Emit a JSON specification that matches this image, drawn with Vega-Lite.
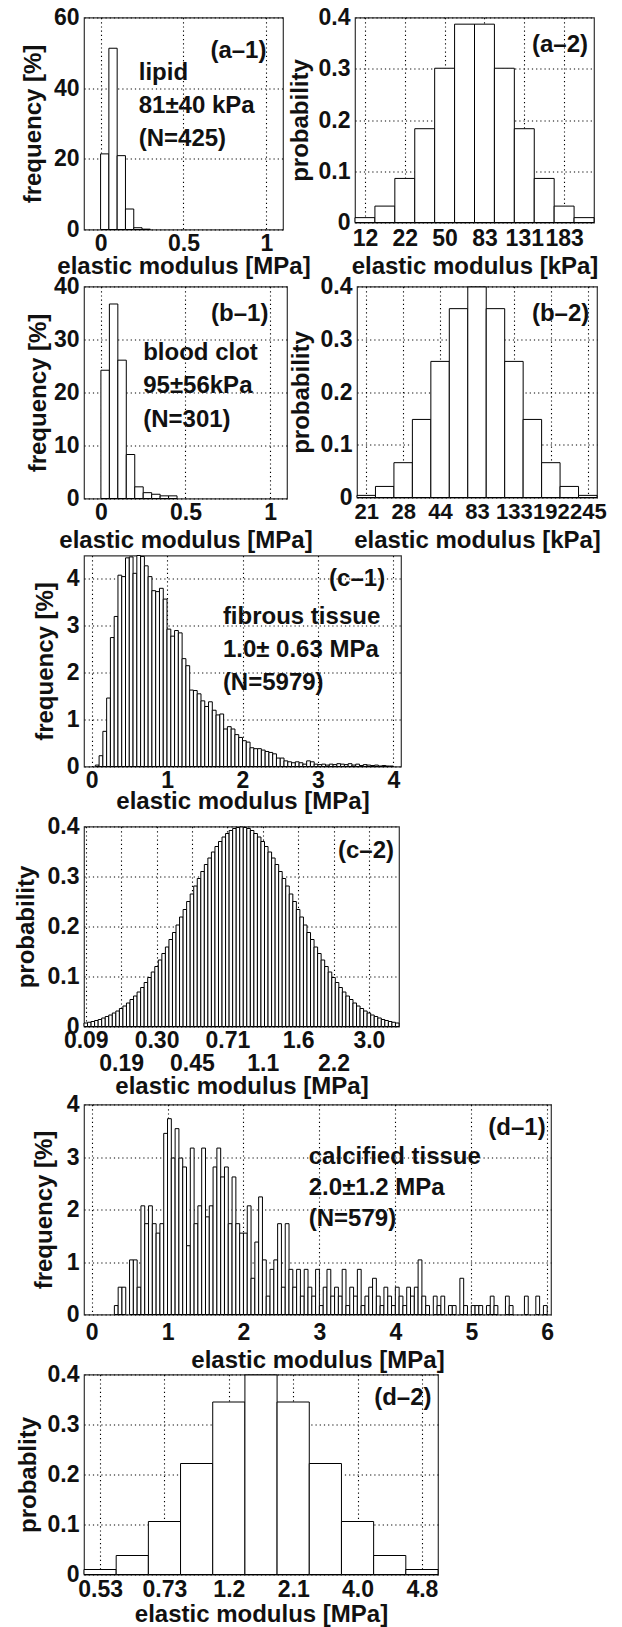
{
"$schema":"https://vega.github.io/schema/vega-lite/v6.json",
"background":"white",
"padding":{"left":13,"top":5.5,"right":5,"bottom":0},
"spacing":-5,
"config":{
 "font":"Liberation Sans",
 "view":{"stroke":"#333333","strokeWidth":1.2},
 "axis":{"labelFont":"Liberation Sans","labelFontSize":23,"labelFontWeight":"bold","labelColor":"#111111",
  "titleFont":"Liberation Sans","titleFontSize":24,"titleFontWeight":"bold","titleColor":"#111111",
  "domain":false,"ticks":false,"tickSize":0,"grid":true,"gridColor":"#000000","gridDash":[1.2,3],"gridWidth":1.1,"gridOpacity":1,
  "labelOverlap":false,"labelFlush":false,"zindex":1},
 "axisX":{"labelPadding":3,"labelOverlap":false,"labelFlush":false},
 "axisY":{"labelPadding":5,"labelOverlap":false},
 "text":{"font":"Liberation Sans","fontSize":24,"fontWeight":"bold","fill":"#111111"}
},
"datasets":{
 "a1":[{"lo":0,"hi":0.05,"v":21.4},{"lo":0.05,"hi":0.1,"v":51.3},{"lo":0.1,"hi":0.15,"v":20.9},{"lo":0.15,"hi":0.2,"v":5.8},{"lo":0.2,"hi":0.25,"v":0.5},{"lo":0.25,"hi":0.3,"v":0.1}],
 "a2":[{"lo":0.5,"hi":1.5,"p":0.0095},{"lo":1.5,"hi":2.5,"p":0.032},{"lo":2.5,"hi":3.5,"p":0.086},{"lo":3.5,"hi":4.5,"p":0.183},{"lo":4.5,"hi":5.5,"p":0.301},{"lo":5.5,"hi":6.5,"p":0.387},{"lo":6.5,"hi":7.5,"p":0.387},{"lo":7.5,"hi":8.5,"p":0.301},{"lo":8.5,"hi":9.5,"p":0.183},{"lo":9.5,"hi":10.5,"p":0.086},{"lo":10.5,"hi":11.5,"p":0.032},{"lo":11.5,"hi":12.5,"p":0.0095}],
 "b1":[{"lo":0,"hi":0.05,"v":24.2},{"lo":0.05,"hi":0.1,"v":36.7},{"lo":0.1,"hi":0.15,"v":26.1},{"lo":0.15,"hi":0.2,"v":8.3},{"lo":0.2,"hi":0.25,"v":2.2},{"lo":0.25,"hi":0.3,"v":1.1},{"lo":0.3,"hi":0.35,"v":0.8},{"lo":0.35,"hi":0.4,"v":0.5},{"lo":0.4,"hi":0.45,"v":0.5}],
 "b2":[{"lo":0.5,"hi":1.5,"p":0.004},{"lo":1.5,"hi":2.5,"p":0.021},{"lo":2.5,"hi":3.5,"p":0.066},{"lo":3.5,"hi":4.5,"p":0.148},{"lo":4.5,"hi":5.5,"p":0.258},{"lo":5.5,"hi":6.5,"p":0.358},{"lo":6.5,"hi":7.5,"p":0.399},{"lo":7.5,"hi":8.5,"p":0.358},{"lo":8.5,"hi":9.5,"p":0.258},{"lo":9.5,"hi":10.5,"p":0.148},{"lo":10.5,"hi":11.5,"p":0.066},{"lo":11.5,"hi":12.5,"p":0.021},{"lo":12.5,"hi":13.5,"p":0.004}],
 "c1":[{"lo":0.05,"hi":0.1,"v":0.03},{"lo":0.1,"hi":0.15,"v":0.23},{"lo":0.15,"hi":0.2,"v":0.75},{"lo":0.2,"hi":0.25,"v":1.46},{"lo":0.25,"hi":0.3,"v":2.75},{"lo":0.3,"hi":0.35,"v":3.2},{"lo":0.35,"hi":0.4,"v":4.08},{"lo":0.4,"hi":0.45,"v":4.05},{"lo":0.45,"hi":0.5,"v":4.45},{"lo":0.5,"hi":0.55,"v":4.47},{"lo":0.55,"hi":0.6,"v":4.12},{"lo":0.6,"hi":0.65,"v":4.5},{"lo":0.65,"hi":0.7,"v":4.48},{"lo":0.7,"hi":0.75,"v":4.28},{"lo":0.75,"hi":0.8,"v":4.05},{"lo":0.8,"hi":0.85,"v":3.75},{"lo":0.85,"hi":0.9,"v":3.73},{"lo":0.9,"hi":0.95,"v":3.8},{"lo":0.95,"hi":1,"v":3.57},{"lo":1,"hi":1.05,"v":2.93},{"lo":1.05,"hi":1.1,"v":2.78},{"lo":1.1,"hi":1.15,"v":2.9},{"lo":1.15,"hi":1.2,"v":2.85},{"lo":1.2,"hi":1.25,"v":2.3},{"lo":1.25,"hi":1.3,"v":2.15},{"lo":1.3,"hi":1.35,"v":1.63},{"lo":1.35,"hi":1.4,"v":1.62},{"lo":1.4,"hi":1.45,"v":1.55},{"lo":1.45,"hi":1.5,"v":1.4},{"lo":1.5,"hi":1.55,"v":1.28},{"lo":1.55,"hi":1.6,"v":1.38},{"lo":1.6,"hi":1.65,"v":1.2},{"lo":1.65,"hi":1.7,"v":1.1},{"lo":1.7,"hi":1.75,"v":1.12},{"lo":1.75,"hi":1.8,"v":0.8},{"lo":1.8,"hi":1.85,"v":0.85},{"lo":1.85,"hi":1.9,"v":0.8},{"lo":1.9,"hi":1.95,"v":0.68},{"lo":1.95,"hi":2,"v":0.62},{"lo":2,"hi":2.05,"v":0.55},{"lo":2.05,"hi":2.1,"v":0.52},{"lo":2.1,"hi":2.15,"v":0.4},{"lo":2.15,"hi":2.2,"v":0.38},{"lo":2.2,"hi":2.25,"v":0.38},{"lo":2.25,"hi":2.3,"v":0.35},{"lo":2.3,"hi":2.35,"v":0.32},{"lo":2.35,"hi":2.4,"v":0.3},{"lo":2.4,"hi":2.45,"v":0.27},{"lo":2.45,"hi":2.5,"v":0.18},{"lo":2.5,"hi":2.55,"v":0.18},{"lo":2.55,"hi":2.6,"v":0.12},{"lo":2.6,"hi":2.65,"v":0.1},{"lo":2.65,"hi":2.7,"v":0.08},{"lo":2.7,"hi":2.75,"v":0.1},{"lo":2.75,"hi":2.8,"v":0.08},{"lo":2.8,"hi":2.85,"v":0.05},{"lo":2.85,"hi":2.9,"v":0.12},{"lo":2.9,"hi":2.95,"v":0.1},{"lo":2.95,"hi":3,"v":0.05},{"lo":3,"hi":3.05,"v":0.04},{"lo":3.05,"hi":3.1,"v":0.05},{"lo":3.1,"hi":3.15,"v":0.03},{"lo":3.15,"hi":3.2,"v":0.05},{"lo":3.2,"hi":3.25,"v":0.04},{"lo":3.25,"hi":3.3,"v":0.06},{"lo":3.3,"hi":3.35,"v":0.05},{"lo":3.35,"hi":3.4,"v":0.04},{"lo":3.4,"hi":3.45,"v":0.06},{"lo":3.45,"hi":3.5,"v":0.03},{"lo":3.5,"hi":3.55,"v":0.05},{"lo":3.55,"hi":3.6,"v":0.02},{"lo":3.6,"hi":3.65,"v":0.04},{"lo":3.65,"hi":3.7,"v":0.03},{"lo":3.7,"hi":3.75,"v":0.02},{"lo":3.75,"hi":3.8,"v":0.03},{"lo":3.8,"hi":3.85,"v":0.01},{"lo":3.85,"hi":3.9,"v":0.02},{"lo":3.9,"hi":3.95,"v":0.01},{"lo":3.95,"hi":4,"v":0.01}],
 "c2":[{"lo":0.5,"hi":1.5,"p":0.007},{"lo":1.5,"hi":2.5,"p":0.0085},{"lo":2.5,"hi":3.5,"p":0.01},{"lo":3.5,"hi":4.5,"p":0.012},{"lo":4.5,"hi":5.5,"p":0.014},{"lo":5.5,"hi":6.5,"p":0.017},{"lo":6.5,"hi":7.5,"p":0.02},{"lo":7.5,"hi":8.5,"p":0.023},{"lo":8.5,"hi":9.5,"p":0.027},{"lo":9.5,"hi":10.5,"p":0.031},{"lo":10.5,"hi":11.5,"p":0.036},{"lo":11.5,"hi":12.5,"p":0.041},{"lo":12.5,"hi":13.5,"p":0.047},{"lo":13.5,"hi":14.5,"p":0.054},{"lo":14.5,"hi":15.5,"p":0.061},{"lo":15.5,"hi":16.5,"p":0.069},{"lo":16.5,"hi":17.5,"p":0.078},{"lo":17.5,"hi":18.5,"p":0.088},{"lo":18.5,"hi":19.5,"p":0.098},{"lo":19.5,"hi":20.5,"p":0.109},{"lo":20.5,"hi":21.5,"p":0.12},{"lo":21.5,"hi":22.5,"p":0.133},{"lo":22.5,"hi":23.5,"p":0.146},{"lo":23.5,"hi":24.5,"p":0.159},{"lo":24.5,"hi":25.5,"p":0.174},{"lo":25.5,"hi":26.5,"p":0.188},{"lo":26.5,"hi":27.5,"p":0.203},{"lo":27.5,"hi":28.5,"p":0.219},{"lo":28.5,"hi":29.5,"p":0.234},{"lo":29.5,"hi":30.5,"p":0.25},{"lo":30.5,"hi":31.5,"p":0.265},{"lo":31.5,"hi":32.5,"p":0.281},{"lo":32.5,"hi":33.5,"p":0.296},{"lo":33.5,"hi":34.5,"p":0.31},{"lo":34.5,"hi":35.5,"p":0.324},{"lo":35.5,"hi":36.5,"p":0.337},{"lo":36.5,"hi":37.5,"p":0.349},{"lo":37.5,"hi":38.5,"p":0.36},{"lo":38.5,"hi":39.5,"p":0.37},{"lo":39.5,"hi":40.5,"p":0.379},{"lo":40.5,"hi":41.5,"p":0.386},{"lo":41.5,"hi":42.5,"p":0.392},{"lo":42.5,"hi":43.5,"p":0.396},{"lo":43.5,"hi":44.5,"p":0.398},{"lo":44.5,"hi":45.5,"p":0.399},{"lo":45.5,"hi":46.5,"p":0.398},{"lo":46.5,"hi":47.5,"p":0.396},{"lo":47.5,"hi":48.5,"p":0.392},{"lo":48.5,"hi":49.5,"p":0.386},{"lo":49.5,"hi":50.5,"p":0.379},{"lo":50.5,"hi":51.5,"p":0.37},{"lo":51.5,"hi":52.5,"p":0.36},{"lo":52.5,"hi":53.5,"p":0.349},{"lo":53.5,"hi":54.5,"p":0.337},{"lo":54.5,"hi":55.5,"p":0.324},{"lo":55.5,"hi":56.5,"p":0.31},{"lo":56.5,"hi":57.5,"p":0.296},{"lo":57.5,"hi":58.5,"p":0.281},{"lo":58.5,"hi":59.5,"p":0.265},{"lo":59.5,"hi":60.5,"p":0.25},{"lo":60.5,"hi":61.5,"p":0.234},{"lo":61.5,"hi":62.5,"p":0.219},{"lo":62.5,"hi":63.5,"p":0.203},{"lo":63.5,"hi":64.5,"p":0.188},{"lo":64.5,"hi":65.5,"p":0.174},{"lo":65.5,"hi":66.5,"p":0.159},{"lo":66.5,"hi":67.5,"p":0.146},{"lo":67.5,"hi":68.5,"p":0.133},{"lo":68.5,"hi":69.5,"p":0.12},{"lo":69.5,"hi":70.5,"p":0.109},{"lo":70.5,"hi":71.5,"p":0.098},{"lo":71.5,"hi":72.5,"p":0.088},{"lo":72.5,"hi":73.5,"p":0.078},{"lo":73.5,"hi":74.5,"p":0.069},{"lo":74.5,"hi":75.5,"p":0.061},{"lo":75.5,"hi":76.5,"p":0.054},{"lo":76.5,"hi":77.5,"p":0.047},{"lo":77.5,"hi":78.5,"p":0.041},{"lo":78.5,"hi":79.5,"p":0.036},{"lo":79.5,"hi":80.5,"p":0.031},{"lo":80.5,"hi":81.5,"p":0.027},{"lo":81.5,"hi":82.5,"p":0.023},{"lo":82.5,"hi":83.5,"p":0.02},{"lo":83.5,"hi":84.5,"p":0.017},{"lo":84.5,"hi":85.5,"p":0.014},{"lo":85.5,"hi":86.5,"p":0.012},{"lo":86.5,"hi":87.5,"p":0.01},{"lo":87.5,"hi":88.5,"p":0.0085},{"lo":88.5,"hi":89.5,"p":0.007}],
 "d1":[{"lo":0.3,"hi":0.35,"v":0.17},{"lo":0.35,"hi":0.4,"v":0.52},{"lo":0.4,"hi":0.45,"v":0.52},{"lo":0.5,"hi":0.55,"v":1.04},{"lo":0.55,"hi":0.6,"v":1.04},{"lo":0.6,"hi":0.65,"v":0.52},{"lo":0.65,"hi":0.7,"v":2.07},{"lo":0.7,"hi":0.75,"v":1.73},{"lo":0.75,"hi":0.8,"v":2.07},{"lo":0.8,"hi":0.85,"v":1.73},{"lo":0.85,"hi":0.9,"v":1.55},{"lo":0.9,"hi":0.95,"v":1.73},{"lo":0.95,"hi":1,"v":3.45},{"lo":1,"hi":1.05,"v":3.73},{"lo":1.05,"hi":1.1,"v":2.98},{"lo":1.1,"hi":1.15,"v":3.54},{"lo":1.15,"hi":1.2,"v":2.98},{"lo":1.2,"hi":1.25,"v":2.81},{"lo":1.25,"hi":1.3,"v":1.31},{"lo":1.3,"hi":1.35,"v":3.17},{"lo":1.35,"hi":1.4,"v":1.73},{"lo":1.4,"hi":1.45,"v":2.07},{"lo":1.45,"hi":1.5,"v":3.17},{"lo":1.5,"hi":1.55,"v":1.86},{"lo":1.55,"hi":1.6,"v":2.07},{"lo":1.6,"hi":1.65,"v":2.81},{"lo":1.65,"hi":1.7,"v":3.17},{"lo":1.7,"hi":1.75,"v":2.62},{"lo":1.75,"hi":1.8,"v":2.81},{"lo":1.8,"hi":1.85,"v":1.73},{"lo":1.85,"hi":1.9,"v":2.62},{"lo":1.9,"hi":1.95,"v":1.73},{"lo":1.95,"hi":2,"v":1.55},{"lo":2,"hi":2.05,"v":1.55},{"lo":2.05,"hi":2.1,"v":2.07},{"lo":2.1,"hi":2.15,"v":0.69},{"lo":2.15,"hi":2.2,"v":1.38},{"lo":2.2,"hi":2.25,"v":2.24},{"lo":2.25,"hi":2.3,"v":1.04},{"lo":2.3,"hi":2.35,"v":0.35},{"lo":2.35,"hi":2.4,"v":0.86},{"lo":2.4,"hi":2.45,"v":1.04},{"lo":2.45,"hi":2.5,"v":1.73},{"lo":2.5,"hi":2.55,"v":0.52},{"lo":2.55,"hi":2.6,"v":1.73},{"lo":2.6,"hi":2.65,"v":0.86},{"lo":2.65,"hi":2.7,"v":0.52},{"lo":2.7,"hi":2.75,"v":0.86},{"lo":2.75,"hi":2.8,"v":0.35},{"lo":2.8,"hi":2.85,"v":0.86},{"lo":2.85,"hi":2.9,"v":0.52},{"lo":2.9,"hi":2.95,"v":0.35},{"lo":2.95,"hi":3,"v":0.86},{"lo":3,"hi":3.05,"v":0.17},{"lo":3.05,"hi":3.1,"v":0.52},{"lo":3.1,"hi":3.15,"v":0.86},{"lo":3.15,"hi":3.2,"v":0.35},{"lo":3.2,"hi":3.25,"v":0.52},{"lo":3.25,"hi":3.3,"v":0.35},{"lo":3.3,"hi":3.35,"v":0.86},{"lo":3.35,"hi":3.4,"v":0.17},{"lo":3.4,"hi":3.45,"v":0.52},{"lo":3.45,"hi":3.5,"v":0.35},{"lo":3.5,"hi":3.55,"v":0.86},{"lo":3.55,"hi":3.6,"v":0.17},{"lo":3.6,"hi":3.65,"v":0.35},{"lo":3.65,"hi":3.7,"v":0.52},{"lo":3.7,"hi":3.75,"v":0.69},{"lo":3.75,"hi":3.8,"v":0.35},{"lo":3.8,"hi":3.85,"v":0.17},{"lo":3.85,"hi":3.9,"v":0.52},{"lo":3.9,"hi":3.95,"v":0.35},{"lo":3.95,"hi":4,"v":0.17},{"lo":4,"hi":4.05,"v":0.52},{"lo":4.05,"hi":4.1,"v":0.35},{"lo":4.1,"hi":4.15,"v":0.17},{"lo":4.15,"hi":4.2,"v":0.52},{"lo":4.2,"hi":4.25,"v":0.35},{"lo":4.25,"hi":4.3,"v":0.52},{"lo":4.3,"hi":4.35,"v":1.04},{"lo":4.35,"hi":4.4,"v":0.35},{"lo":4.4,"hi":4.45,"v":0.17},{"lo":4.5,"hi":4.55,"v":0.35},{"lo":4.55,"hi":4.6,"v":0.17},{"lo":4.6,"hi":4.65,"v":0.35},{"lo":4.7,"hi":4.75,"v":0.17},{"lo":4.75,"hi":4.8,"v":0.17},{"lo":4.85,"hi":4.9,"v":0.69},{"lo":4.9,"hi":4.95,"v":0.17},{"lo":5,"hi":5.05,"v":0.17},{"lo":5.05,"hi":5.1,"v":0.17},{"lo":5.1,"hi":5.15,"v":0.17},{"lo":5.2,"hi":5.25,"v":0.17},{"lo":5.25,"hi":5.3,"v":0.35},{"lo":5.3,"hi":5.35,"v":0.17},{"lo":5.45,"hi":5.5,"v":0.35},{"lo":5.5,"hi":5.55,"v":0.17},{"lo":5.7,"hi":5.75,"v":0.35},{"lo":5.85,"hi":5.9,"v":0.35},{"lo":5.95,"hi":6,"v":0.17}],
 "d2":[{"lo":0.5,"hi":1.5,"p":0.01},{"lo":1.5,"hi":2.5,"p":0.038},{"lo":2.5,"hi":3.5,"p":0.106},{"lo":3.5,"hi":4.5,"p":0.222},{"lo":4.5,"hi":5.5,"p":0.345},{"lo":5.5,"hi":6.5,"p":0.399},{"lo":6.5,"hi":7.5,"p":0.345},{"lo":7.5,"hi":8.5,"p":0.222},{"lo":8.5,"hi":9.5,"p":0.106},{"lo":9.5,"hi":10.5,"p":0.038},{"lo":10.5,"hi":11.5,"p":0.01}]
},
"vconcat":[
 {"hconcat":[
  {"width":199,"height":212,"layer":[
   {"data":{"name":"a1"},"mark":{"type":"rect","fill":"#ffffff","stroke":"#000000","strokeWidth":1},
    "encoding":{
     "x":{"field":"lo","type":"quantitative","scale":{"domain":[-0.1,1.1],"nice":false,"zero":false},"axis":{"title":"elastic modulus [MPa]","values":[0,0.5,1],"format":"~g","labelOverlap":false,"labelFlush":false,"titlePadding":-1}},
     "x2":{"field":"hi"},
     "y":{"field":"v","type":"quantitative","scale":{"domain":[0,60],"nice":false},"axis":{"title":"frequency [%]","values":[0,10,20,30,40,50,60],"format":"d","labelOverlap":false,"minExtent":34,"maxExtent":34,"titlePadding":5}},
     "y2":{"datum":0}}},
   {"data":{"values":[{}]},"mark":{"type":"text","align":"right","baseline":"middle"},"encoding":{"x":{"datum":1.0},"y":{"datum":50.5},"text":{"value":"(a–1)"}}},
   {"data":{"values":[{}]},"mark":{"type":"text","align":"left","baseline":"middle"},"encoding":{"x":{"datum":0.23},"y":{"datum":44.2},"text":{"value":"lipid"}}},
   {"data":{"values":[{}]},"mark":{"type":"text","align":"left","baseline":"middle"},"encoding":{"x":{"datum":0.23},"y":{"datum":35.0},"text":{"value":"81±40 kPa"}}},
   {"data":{"values":[{}]},"mark":{"type":"text","align":"left","baseline":"middle"},"encoding":{"x":{"datum":0.23},"y":{"datum":25.7},"text":{"value":"(N=425)"}}}
  ]},
  {"width":239,"height":205,"layer":[
   {"data":{"name":"a2"},"mark":{"type":"rect","fill":"#ffffff","stroke":"#000000","strokeWidth":1},
    "encoding":{
     "x":{"field":"lo","type":"quantitative","scale":{"domain":[0.5,12.5],"nice":false,"zero":false},"axis":{"title":"elastic modulus [kPa]","values":[1,3,5,7,9,11],"labelExpr":"['12','22','50','83','131','183'][(datum.value-1)/2]","labelOverlap":false,"labelFlush":false,"labelPadding":5,"titlePadding":4}},
     "x2":{"field":"hi"},
     "y":{"field":"p","type":"quantitative","scale":{"domain":[0,0.4],"nice":false},"axis":{"title":"probability","values":[0,0.05,0.1,0.15,0.2,0.25,0.3,0.35,0.4],"labelExpr":"round(datum.value*100) % 10 == 0 ? (datum.value == 0 ? '0' : format(datum.value, '.1f')) : ''","labelOverlap":false,"minExtent":40,"maxExtent":40,"titlePadding":3}},
     "y2":{"datum":0}}},
   {"data":{"values":[{}]},"mark":{"type":"text","align":"right","baseline":"middle"},"encoding":{"x":{"datum":12.2},"y":{"datum":0.346},"text":{"value":"(a–2)"}}}
  ]}
 ],"spacing":-24},
 {"vconcat":[
  {"hconcat":[
   {"width":203,"height":212,"layer":[
    {"data":{"name":"b1"},"mark":{"type":"rect","fill":"#ffffff","stroke":"#000000","strokeWidth":1},
     "encoding":{
      "x":{"field":"lo","type":"quantitative","scale":{"domain":[-0.1,1.1],"nice":false,"zero":false},"axis":{"title":"elastic modulus [MPa]","values":[0,0.5,1],"format":"~g","labelOverlap":false,"labelFlush":false,"titlePadding":4}},
      "x2":{"field":"hi"},
      "y":{"field":"v","type":"quantitative","scale":{"domain":[0,40],"nice":false},"axis":{"title":"frequency [%]","values":[0,5,10,15,20,25,30,35,40],"labelExpr":"datum.value % 10 == 0 ? format(datum.value, 'd') : ''","labelOverlap":false,"minExtent":34,"maxExtent":34,"titlePadding":0}},
      "y2":{"datum":0}}},
    {"data":{"values":[{}]},"mark":{"type":"text","align":"right","baseline":"middle"},"encoding":{"x":{"datum":0.99},"y":{"datum":34.9},"text":{"value":"(b–1)"}}},
    {"data":{"values":[{}]},"mark":{"type":"text","align":"left","baseline":"middle"},"encoding":{"x":{"datum":0.25},"y":{"datum":27.5},"text":{"value":"blood clot"}}},
    {"data":{"values":[{}]},"mark":{"type":"text","align":"left","baseline":"middle"},"encoding":{"x":{"datum":0.25},"y":{"datum":21.2},"text":{"value":"95±56kPa"}}},
    {"data":{"values":[{}]},"mark":{"type":"text","align":"left","baseline":"middle"},"encoding":{"x":{"datum":0.25},"y":{"datum":14.8},"text":{"value":"(N=301)"}}}
   ]},
   {"width":240,"height":211,"resolve":{"axis":{"x":"independent"}},"layer":[
    {"data":{"name":"b2"},"mark":{"type":"rect","fill":"#ffffff","stroke":"#000000","strokeWidth":1},
     "encoding":{
      "x":{"field":"lo","type":"quantitative","scale":{"domain":[0.5,13.5],"nice":false,"zero":false},"axis":{"orient":"bottom","title":"elastic modulus [kPa]","values":[1,3,5,7,9,11,13],"labelExpr":"(datum.value-1) % 4 == 0 ? ['21','44','133','245'][(datum.value-1)/4] : ''","labelFontSize":22,"labelOverlap":false,"labelFlush":false,"labelPadding":4,"titlePadding":6}},
      "x2":{"field":"hi"},
      "y":{"field":"p","type":"quantitative","scale":{"domain":[0,0.4],"nice":false},"axis":{"title":"probability","values":[0,0.05,0.1,0.15,0.2,0.25,0.3,0.35,0.4],"labelExpr":"round(datum.value*100) % 10 == 0 ? (datum.value == 0 ? '0' : format(datum.value, '.1f')) : ''","labelOverlap":false,"minExtent":40,"maxExtent":40,"titlePadding":4}},
      "y2":{"datum":0}}},
    {"data":{"values":[{}]},"mark":{"type":"text","align":"right","baseline":"middle"},"encoding":{
      "x":{"datum":13.08,"axis":{"orient":"bottom","title":null,"grid":false,"values":[3,7,11],"labelExpr":"['28','83','192'][(datum.value-3)/4]","labelFontSize":22,"labelOverlap":false,"labelFlush":false,"labelPadding":4}},
      "y":{"datum":0.348},"text":{"value":"(b–2)"}}}
   ]}
  ],"spacing":-25},
  {"width":317,"height":211,"layer":[
   {"data":{"name":"c1"},"mark":{"type":"rect","fill":"#ffffff","stroke":"#000000","strokeWidth":1},
    "encoding":{
     "x":{"field":"lo","type":"quantitative","scale":{"domain":[-0.1,4.1],"nice":false,"zero":false},"axis":{"title":"elastic modulus [MPa]","values":[0,0.5,1,1.5,2,2.5,3,3.5,4],"labelExpr":"datum.value % 1 == 0 ? format(datum.value, 'd') : ''","labelOverlap":false,"labelFlush":false,"titlePadding":-3}},
     "x2":{"field":"hi"},
     "y":{"field":"v","type":"quantitative","scale":{"domain":[0,4.5],"nice":false},"axis":{"title":"frequency [%]","values":[0,0.5,1,1.5,2,2.5,3,3.5,4],"labelExpr":"datum.value % 1 == 0 ? format(datum.value, 'd') : ''","labelOverlap":false,"minExtent":20,"maxExtent":20,"titlePadding":7}},
     "y2":{"datum":0}}},
   {"data":{"values":[{}]},"mark":{"type":"text","align":"right","baseline":"middle"},"encoding":{"x":{"datum":3.89},"y":{"datum":4.0},"text":{"value":"(c–1)"}}},
   {"data":{"values":[{}]},"mark":{"type":"text","align":"left","baseline":"middle"},"encoding":{"x":{"datum":1.74},"y":{"datum":3.18},"text":{"value":"fibrous tissue"}}},
   {"data":{"values":[{}]},"mark":{"type":"text","align":"left","baseline":"middle"},"encoding":{"x":{"datum":1.74},"y":{"datum":2.49},"text":{"value":"1.0± 0.63 MPa"}}},
   {"data":{"values":[{}]},"mark":{"type":"text","align":"left","baseline":"middle"},"encoding":{"x":{"datum":1.74},"y":{"datum":1.79},"text":{"value":"(N=5979)"}}}
  ]},
  {"vconcat":[
   {"width":315,"height":200,"resolve":{"axis":{"x":"independent"}},"layer":[
    {"data":{"name":"c2"},"mark":{"type":"rect","fill":"#ffffff","stroke":"#000000","strokeWidth":1},
     "encoding":{
      "x":{"field":"lo","type":"quantitative","scale":{"domain":[0.5,89.5],"nice":false,"zero":false},"axis":{"orient":"bottom","title":"elastic modulus [MPa]","values":[1,11,21,31,41,51,61,71,81],"labelExpr":"(datum.value - 1) % 20 == 0 ? ['0.09','0.30','0.71','1.6','3.0'][(datum.value-1)/20] : ''","labelOverlap":false,"labelFlush":false,"labelPadding":3,"titlePadding":22}},
      "x2":{"field":"hi"},
      "y":{"field":"p","type":"quantitative","scale":{"domain":[0,0.4],"nice":false},"axis":{"title":"probability","values":[0,0.05,0.1,0.15,0.2,0.25,0.3,0.35,0.4],"labelExpr":"round(datum.value*100) % 10 == 0 ? (datum.value == 0 ? '0' : format(datum.value, '.1f')) : ''","labelOverlap":false,"minExtent":40,"maxExtent":40,"titlePadding":6}},
      "y2":{"datum":0}}},
    {"data":{"values":[{}]},"mark":{"type":"text","align":"right","baseline":"middle"},"encoding":{
      "x":{"datum":88.1,"axis":{"orient":"bottom","title":null,"grid":false,"values":[11,31,51,71],"labelExpr":"['0.19','0.45','1.1','2.2'][(datum.value-11)/20]","labelOverlap":false,"labelFlush":false,"labelPadding":26}},
      "y":{"datum":0.352},"text":{"value":"(c–2)"}}}
   ]},
   {"vconcat":[
    {"width":467,"height":210,"layer":[
     {"data":{"name":"d1"},"mark":{"type":"rect","fill":"#ffffff","stroke":"#000000","strokeWidth":1},
      "encoding":{
       "x":{"field":"lo","type":"quantitative","scale":{"domain":[-0.1,6.05],"nice":false,"zero":false},"axis":{"title":"elastic modulus [MPa]","values":[0,1,2,3,4,5,6],"format":"d","labelOverlap":false,"labelFlush":false,"labelPadding":7,"titlePadding":4}},
       "x2":{"field":"hi"},
       "y":{"field":"v","type":"quantitative","scale":{"domain":[0,4],"nice":false},"axis":{"title":"frequency [%]","values":[0,0.5,1,1.5,2,2.5,3,3.5,4],"labelExpr":"datum.value % 1 == 0 ? format(datum.value, 'd') : ''","labelOverlap":false,"minExtent":20,"maxExtent":20,"titlePadding":8}},
       "y2":{"datum":0}}},
     {"data":{"values":[{}]},"mark":{"type":"text","align":"right","baseline":"middle"},"encoding":{"x":{"datum":5.98},"y":{"datum":3.55},"text":{"value":"(d–1)"}}},
     {"data":{"values":[{}]},"mark":{"type":"text","align":"left","baseline":"middle"},"encoding":{"x":{"datum":2.86},"y":{"datum":3.0},"text":{"value":"calcified tissue"}}},
     {"data":{"values":[{}]},"mark":{"type":"text","align":"left","baseline":"middle"},"encoding":{"x":{"datum":2.86},"y":{"datum":2.41},"text":{"value":"2.0±1.2 MPa"}}},
     {"data":{"values":[{}]},"mark":{"type":"text","align":"left","baseline":"middle"},"encoding":{"x":{"datum":2.86},"y":{"datum":1.82},"text":{"value":"(N=579)"}}}
    ]},
    {"width":354,"height":200,"layer":[
     {"data":{"name":"d2"},"mark":{"type":"rect","fill":"#ffffff","stroke":"#000000","strokeWidth":1},
      "encoding":{
       "x":{"field":"lo","type":"quantitative","scale":{"domain":[0.5,11.5],"nice":false,"zero":false},"axis":{"title":"elastic modulus [MPa]","values":[1,3,5,7,9,11],"labelExpr":"['0.53','0.73','1.2','2.1','4.0','4.8'][(datum.value-1)/2]","labelOverlap":false,"labelFlush":false,"labelPadding":4,"titlePadding":1}},
       "x2":{"field":"hi"},
       "y":{"field":"p","type":"quantitative","scale":{"domain":[0,0.4],"nice":false},"axis":{"title":"probablity","values":[0,0.05,0.1,0.15,0.2,0.25,0.3,0.35,0.4],"labelExpr":"round(datum.value*100) % 10 == 0 ? (datum.value == 0 ? '0' : format(datum.value, '.1f')) : ''","labelOverlap":false,"minExtent":40,"maxExtent":40,"titlePadding":4}},
       "y2":{"datum":0}}},
     {"data":{"values":[{}]},"mark":{"type":"text","align":"right","baseline":"middle"},"encoding":{"x":{"datum":11.3},"y":{"datum":0.354},"text":{"value":"(d–2)"}}}
    ]}
   ],"spacing":-11}
  ],"spacing":-7}
 ],"spacing":0}
]
}
